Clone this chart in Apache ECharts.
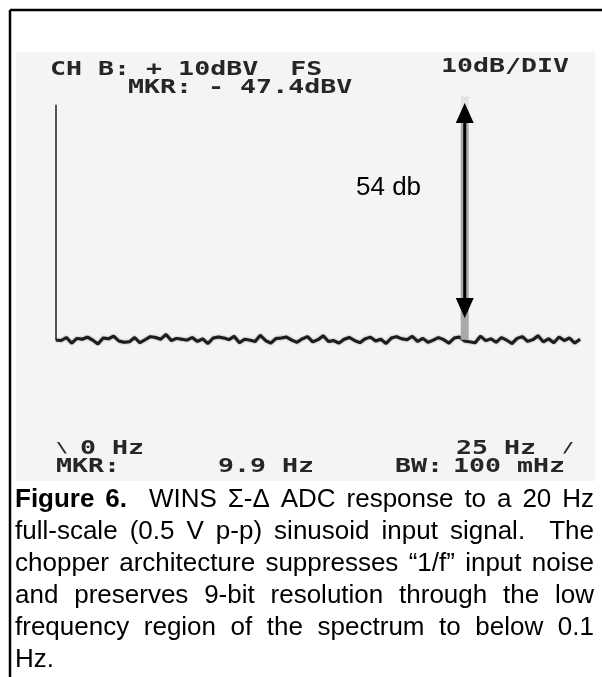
<!DOCTYPE html>
<html><head><meta charset="utf-8">
<script src="https://cdn.jsdelivr.net/npm/echarts@6/dist/echarts.min.js"></script>
<style>html,body{margin:0;padding:0;background:#fff}#c{width:602px;height:677px}</style>
</head><body><div id="c"></div>
<script>
// ---------- data ----------
const xRangeHz = [0, 25];                 // span of the analyzer display
const yRangeDbv = [-70, 10];              // +10 dBV full scale, 10 dB/div
const yDivDb = 10;
const sweepStepHz = 0.25;
const spikePoint = [0, 6.6];              // low-frequency peak (dBV)
const noiseDbv = [
  -47.5,
  -47.6,-46.9,-48.2,-47.1,-47.3,-46.8,-47.5,-48.4,-47.0,-47.2,
  -46.6,-47.7,-48.0,-47.9,-46.9,-48.1,-47.4,-46.7,-46.9,-47.3,
  -46.2,-47.6,-47.1,-47.3,-47.5,-46.9,-47.8,-47.2,-48.3,-47.0,
  -46.8,-47.0,-47.4,-46.6,-48.1,-47.3,-47.5,-47.8,-46.4,-47.6,
  -48.2,-47.1,-47.0,-46.8,-47.5,-48.0,-47.2,-46.7,-47.9,-47.4,
  -46.5,-47.8,-47.6,-48.2,-47.3,-46.9,-47.6,-48.1,-47.2,-46.8,
  -47.7,-47.3,-48.3,-47.0,-46.7,-47.2,-47.4,-46.6,-47.8,-47.1,
  -48.0,-47.5,-46.9,-47.4,-48.2,-47.0,-46.8,-47.7,-47.9,-48.1,
  -46.6,-47.6,-47.2,-48.0,-46.9,-47.5,-48.3,-47.1,-46.7,-47.8,
  -47.4,-46.5,-47.9,-47.2,-48.1,-46.8,-47.6,-47.0,-48.2,-47.3
];
const markerHz = 19.5;
const markerDbv = -47.4;
const markerBarTopDbv = 2.4;
const markerFaintTopDbv = 8.5;
const arrowTopDbv = 7.0;
const arrowBottomDbv = -42.4;
const arrowLabel = '54 db';
const headerTexts = ['CH B: + 10dBV  FS', 'MKR: - 47.4dBV', '10dB/DIV'];
const footerTexts = ['\\', '0 Hz', 'MKR:', '9.9 Hz', 'BW:', '25 Hz', '/', '100 mHz'];
const captionLines = [
  'Figure 6.  WINS \u03A3-\u0394 ADC response to a 20 Hz',
  'full-scale (0.5 V p-p) sinusoid input signal.  The',
  'chopper architecture suppresses \u201C1/f\u201D input noise',
  'and preserves 9-bit resolution through the low',
  'frequency region of the spectrum to below 0.1',
  'Hz.'
];

// ---------- build ----------
const noiseSeries = noiseDbv.map((v, i) => [i * sweepStepHz, v]);
const spikeSeries = [spikePoint, [spikePoint[0], noiseDbv[0]]];

const monoScale = 1.4;
function scr(text, x, y, size) {
  return {
    type: 'text', x: x, y: y, scaleX: monoScale, z: 10,
    style: {
      text: text, font: 'bold ' + (size || 19) + 'px "DejaVu Sans Mono", monospace',
      fill: '#262626', verticalAlign: 'middle',
      shadowColor: 'rgba(0,0,0,0.5)', shadowBlur: 2
    }
  };
}

const capFamily = '"Liberation Sans", Arial, sans-serif';
const capSize = 26;
const measureCtx = document.createElement('canvas').getContext('2d');
function measure(t, bold) {
  measureCtx.font = (bold ? 'bold ' : '') + capSize + 'px ' + capFamily;
  return measureCtx.measureText(t).width;
}
const capLeft = 15, capRight = 594, capTop = 500, capLead = 32;
const captionEls = [];
captionLines.forEach((line, li) => {
  const parts = line.split(' ');
  const words = [], gaps = [];
  let pending = 0;
  parts.forEach(p => {
    if (p === '') { pending++; return; }
    if (words.length) gaps.push(1 + pending);
    pending = 0;
    words.push(p);
  });
  const bold = words.map((w, wi) => li === 0 && wi < 2);
  const widths = words.map((w, wi) => measure(w, bold[wi]));
  const sp = measure(' ', false);
  const units = gaps.reduce((a, b) => a + b, 0);
  const sumW = widths.reduce((a, b) => a + b, 0);
  const justify = li < captionLines.length - 1 && units > 0;
  const unitW = justify ? (capRight - capLeft - sumW) / units : sp;
  let x = capLeft;
  const y = capTop + li * capLead;
  words.forEach((w, wi) => {
    captionEls.push({
      type: 'text', x: x, y: y,
      style: {
        text: w, font: (bold[wi] ? 'bold ' : '') + capSize + 'px ' + capFamily,
        fill: '#000', verticalAlign: 'middle'
      }
    });
    x += widths[wi] + (wi < gaps.length ? gaps[wi] * unitW : 0);
  });
});

const graphic = [
  // page frame
  { type: 'line', shape: { x1: 10, y1: 10, x2: 602, y2: 10 }, style: { stroke: '#000', lineWidth: 2.5 } },
  { type: 'line', shape: { x1: 10, y1: 10, x2: 10, y2: 677 }, style: { stroke: '#000', lineWidth: 2.5 } },
  // analyzer screen
  { type: 'rect', shape: { x: 16, y: 52, width: 579, height: 429 }, style: { fill: '#f4f4f4' }, z: -10 },
  scr(headerTexts[0], 50, 70),
  scr(headerTexts[1], 128, 88),
  scr(headerTexts[2], 441, 67),
  scr(footerTexts[0], 56, 448, 14),
  scr(footerTexts[1], 80, 449),
  scr(footerTexts[2], 56, 467),
  scr(footerTexts[3], 218, 467),
  scr(footerTexts[4], 395, 467),
  scr(footerTexts[5], 456, 449),
  scr(footerTexts[6], 562, 448, 14),
  scr(footerTexts[7], 453, 467),
  { type: 'text', x: 356, y: 188, z: 10,
    style: { text: arrowLabel, font: '26px ' + capFamily, fill: '#000', verticalAlign: 'middle' } }
].concat(captionEls);

const chart = echarts.init(document.getElementById('c'), null, { renderer: 'canvas' });
chart.setOption({
  animation: false,
  backgroundColor: '#fff',
  grid: { left: 56, right: 22, top: 90, bottom: 677 - 438 },
  xAxis: { type: 'value', min: xRangeHz[0], max: xRangeHz[1], show: false },
  yAxis: { type: 'value', min: yRangeDbv[0], max: yRangeDbv[1], interval: yDivDb, show: false },
  graphic: graphic,
  series: [
    {
      type: 'line', data: spikeSeries, symbol: 'none', z: 3,
      lineStyle: { color: '#555', width: 2 }
    },
    {
      type: 'line', data: noiseSeries, symbol: 'none', z: 4,
      lineStyle: { color: '#1c1c1c', width: 3, shadowColor: 'rgba(0,0,0,0.5)', shadowBlur: 2 }
    },
    {
      type: 'custom', z: 5,
      data: [[markerHz, markerDbv, markerBarTopDbv, markerFaintTopDbv, arrowTopDbv, arrowBottomDbv]],
      renderItem: function (params, api) {
        const x = api.value(0);
        const pBase = api.coord([x, api.value(1)]);
        const pBar = api.coord([x, api.value(2)]);
        const pFaint = api.coord([x, api.value(3)]);
        const pTop = api.coord([x, api.value(4)]);
        const pBot = api.coord([x, api.value(5)]);
        const hw = 9, hh = 20;
        return {
          type: 'group',
          children: [
            { type: 'rect', shape: { x: pFaint[0] - 4, y: pFaint[1], width: 8, height: pBar[1] - pFaint[1] },
              style: { fill: '#e2e2e2' } },
            { type: 'rect', shape: { x: pBar[0] - 4, y: pBar[1], width: 8, height: pBase[1] - pBar[1] },
              style: { fill: '#a9a9a9' } },
            { type: 'line', shape: { x1: pTop[0], y1: pTop[1] + hh - 2, x2: pBot[0], y2: pBot[1] - hh + 2 },
              style: { stroke: '#000', lineWidth: 3 } },
            { type: 'polygon', shape: { points: [[pTop[0], pTop[1]], [pTop[0] - hw, pTop[1] + hh], [pTop[0] + hw, pTop[1] + hh]] },
              style: { fill: '#000' } },
            { type: 'polygon', shape: { points: [[pBot[0], pBot[1]], [pBot[0] - hw, pBot[1] - hh], [pBot[0] + hw, pBot[1] - hh]] },
              style: { fill: '#000' } }
          ]
        };
      }
    }
  ]
});
</script></body></html>
